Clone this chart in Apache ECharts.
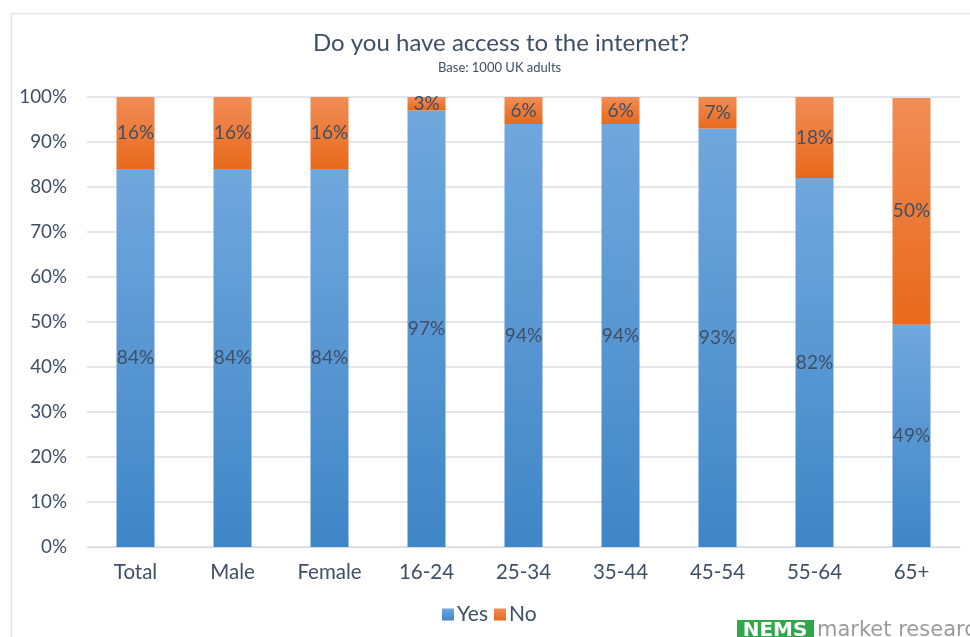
<!DOCTYPE html>
<html>
<head>
<meta charset="utf-8">
<script src="https://cdn.jsdelivr.net/npm/echarts@6/dist/echarts.min.js"></script>
<style>
html,body{margin:0;padding:0;background:#fff;}
#c{width:970px;height:637px;}
</style>
</head>
<body>
<div id="c"></div>
<script>
const categories = ['Total','Male','Female','16-24','25-34','35-44','45-54','55-64','65+'];
const yesValues = [84, 84, 84, 97, 94, 94, 93, 82, 49.4];
const noValues = [16, 16, 16, 3, 6, 6, 7, 18, 50.4];
const yTicks = [0,10,20,30,40,50,60,70,80,90,100];

const FONT = 'Lato, "Open Sans", sans-serif';
const TXT = '#3f4f66';

const chart = echarts.init(document.getElementById('c'));
const blueGrad = new echarts.graphic.LinearGradient(0,0,0,1,[{offset:0,color:'#70a7dd'},{offset:1,color:'#3f86c7'}]);
const orangeGrad = new echarts.graphic.LinearGradient(0,0,0,1,[{offset:0,color:'#f18d57'},{offset:1,color:'#e8691b'}]);
const lbl = {show:true, position:'inside', color:TXT, fontFamily:FONT, fontSize:19,
  formatter: p => Math.round(p.value) + '%'};

chart.setOption({
  animation:false,
  backgroundColor:'#fff',
  title:[{
    text:'Do you have access to the internet?',
    left:308, top:26,
    textStyle:{fontFamily:FONT, fontSize:24, fontWeight:'normal', color:TXT}
  },{
    text:'Base: 1000 UK adults',
    left:433, top:56,
    textStyle:{fontFamily:FONT, fontSize:13, fontWeight:'normal', color:TXT}
  }],
  legend:{
    data:['Yes','No'], bottom:7, left:437, itemWidth:12, itemHeight:12, itemGap:6,
    icon:'rect',
    textStyle:{fontFamily:FONT, fontSize:21, color:TXT, padding:[0,0,0,-2]}
  },
  grid:{left:87, right:10, top:97, bottom:90, containLabel:false},
  xAxis:{
    type:'category', data:categories,
    axisLine:{lineStyle:{color:'#d9d9e3', width:1}},
    axisTick:{show:false},
    axisLabel:{fontFamily:FONT, fontSize:20.5, color:TXT, margin:15}
  },
  yAxis:{
    type:'value', min:0, max:100, interval:10,
    axisLabel:{fontFamily:FONT, fontSize:18.8, color:TXT, margin:20,
      formatter: v => yTicks.includes(v) ? v + '%' : ''},
    axisLine:{show:false}, axisTick:{show:false},
    splitLine:{lineStyle:{color:'#dcdde6', width:1.5}}
  },
  series:[
    {name:'Yes', type:'bar', stack:'s', data:yesValues, barWidth:38,
     itemStyle:{color:blueGrad}, label:lbl},
    {name:'No', type:'bar', stack:'s', data:noValues, barWidth:38,
     itemStyle:{color:orangeGrad}, label:lbl}
  ],
  graphic:[
    {type:'line', shape:{x1:11.5,y1:13,x2:11.5,y2:637}, style:{stroke:'#e3e3ea', lineWidth:1.5}, silent:true},
    {type:'line', shape:{x1:11,y1:13.5,x2:970,y2:13.5}, style:{stroke:'#e3e3e3', lineWidth:1.5}, silent:true},
    {type:'rect', shape:{x:737,y:620,width:77,height:20}, style:{fill:'#2ea84a'}, silent:true},
    {type:'text', x:775, y:621, style:{text:'NEMS', fill:'#ffffff', font:'bold 20px "DejaVu Sans", sans-serif', align:'center', verticalAlign:'top'}, silent:true},
    {type:'text', x:817, y:620, style:{text:'market research', fill:'#9a9a9a', font:'21px "DejaVu Sans", sans-serif', align:'left', verticalAlign:'top'}, silent:true}
  ]
});
</script>
</body>
</html>
